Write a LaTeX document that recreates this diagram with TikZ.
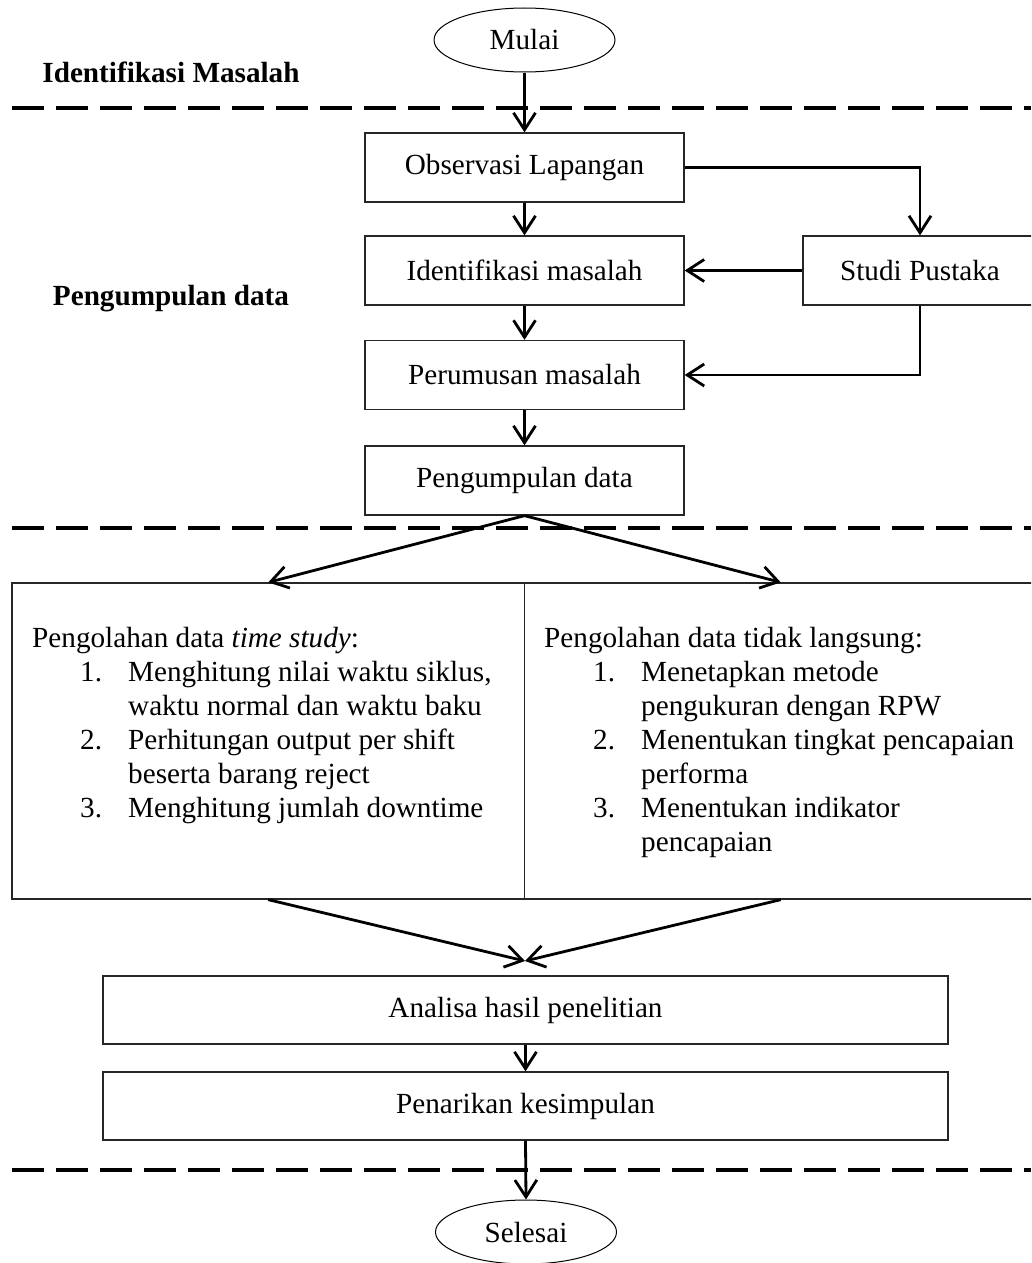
\documentclass[tikz,border=0pt]{standalone}
\usepackage{fontspec}
\setmainfont{Liberation Serif}
\usetikzlibrary{arrows.meta,shapes.geometric}

\begin{document}
\begin{tikzpicture}[x=1pt,y=-1pt,
  every node/.style={font=\fontsize{29.2}{34}\selectfont},
  stepbox/.style={draw=black!85, line width=1.3pt, minimum width=319pt,
    minimum height=69pt, inner sep=0pt},
  panel/.style={draw=black!85, line width=1.3pt, minimum width=512.5pt,
    minimum height=316pt, inner sep=0pt},
  terminal/.style={ellipse, draw, line width=1pt, minimum width=181pt,
    minimum height=64pt, inner sep=0pt},
  flow/.style={line width=2.8pt, -{Straight Barb[length=17pt,width=22pt]}},
  phase/.style={font=\fontsize{29.2}{34}\selectfont\bfseries, anchor=base},
  listtext/.style={anchor=base west, inner sep=0pt},
  divider/.style={line width=4.5pt, dash pattern=on 32pt off 12pt},
]
\useasboundingbox (0,0) rectangle (1031,1263);
\clip (0,0) rectangle (1031,1263);

% phase separators
\draw[divider] (12,108) -- (1031,108);
\draw[divider] (12,528) -- (1031,528);
\draw[divider] (12,1170) -- (1031,1170);

% phase titles
\node[phase] (ph1) at (171,82) {Identifikasi Masalah};
\node[phase] (ph2) at (171,305) {Pengumpulan data};

% main column
\node[terminal] (start) at (524.5,40) {Mulai};
\node[stepbox] (obs) at (524.5,167.5) {Observasi Lapangan};
\node[stepbox] (idm) at (524.5,270.5) {Identifikasi masalah};
\node[stepbox] (rum) at (524.5,375) {Perumusan masalah};
\node[stepbox] (kum) at (524.5,480.5) {Pengumpulan data};
\node[stepbox, minimum width=234pt] (lit) at (920,270.5) {Studi Pustaka};

% processing panels
\node[panel] (lbox) at (268.25,741) {};
\node[panel] (rbox) at (780.75,741) {};

\node[listtext] (ltext) at (32,647) {%
  \begin{tabular}[t]{@{}p{48pt}@{}p{48pt}@{}l@{}}
    \multicolumn{3}{@{}l@{}}{Pengolahan data \textit{time study}:}\\
    & 1. & Menghitung nilai waktu siklus,\\
    &    & waktu normal dan waktu baku\\
    & 2. & Perhitungan output per shift\\
    &    & beserta barang reject\\
    & 3. & Menghitung jumlah downtime
  \end{tabular}};

\node[listtext] (rtext) at (544,647) {%
  \begin{tabular}[t]{@{}p{49pt}@{}p{48pt}@{}l@{}}
    \multicolumn{3}{@{}l@{}}{Pengolahan data tidak langsung:}\\
    & 1. & Menetapkan metode\\
    &    & pengukuran dengan RPW\\
    & 2. & Menentukan tingkat pencapaian\\
    &    & performa\\
    & 3. & Menentukan indikator\\
    &    & pencapaian
  \end{tabular}};

\coordinate (merge) at (525,961);

% closing steps
\node[stepbox, minimum width=845pt, minimum height=68pt] (ana) at (525.5,1010) {Analisa hasil penelitian};
\node[stepbox, minimum width=845pt, minimum height=68pt] (pen) at (525.5,1106) {Penarikan kesimpulan};
\node[terminal] (stop) at (526,1232) {Selesai};

% connectors
\draw[flow] (start.south) -- (obs.north);
\draw[flow] (obs.south) -- (idm.north);
\draw[flow] (idm.south) -- (rum.north);
\draw[flow] (rum.south) -- (kum.north);
\draw[flow] (obs.east) -| (lit.north);
\draw[flow] (lit.west) -- (idm.east);
\draw[flow] (lit.south) |- (rum.east);
\draw[flow] (kum.south) -- (lbox.north);
\draw[flow] (kum.south) -- (rbox.north);
\draw[flow] (lbox.south) -- (merge);
\draw[flow] (rbox.south) -- (merge);
\draw[flow] (ana.south) -- (pen.north);
\draw[flow] (pen.south) -- (stop.north);
\end{tikzpicture}
\end{document}
